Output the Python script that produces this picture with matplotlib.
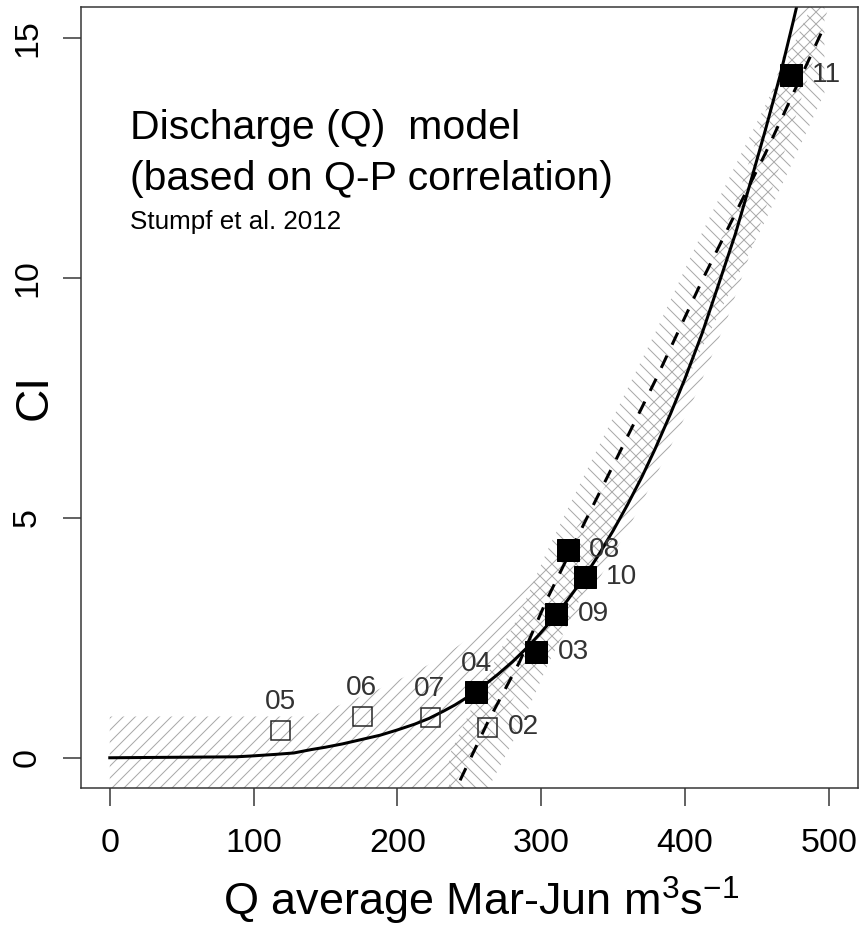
import matplotlib.pyplot as plt

plt.rcParams["font.family"] = ["Liberation Sans", "DejaVu Sans"]
plt.rcParams["mathtext.fontset"] = "custom"
plt.rcParams["mathtext.rm"] = "Liberation Sans"
plt.rcParams["mathtext.it"] = "Liberation Sans:italic"
plt.rcParams["hatch.linewidth"] = 1.0
plt.rcParams["hatch.color"] = "#a8a8a8"

# observed years (label), mean Mar-Jun discharge and CI
years = ["02", "03", "04", "05", "06", "07", "08", "09", "10", "11"]
q_avg = [262.4, 296.7, 255.0, 118.4, 175.1, 222.6, 318.6, 310.6, 330.2, 473.8]
ci = [0.64, 2.21, 1.38, 0.58, 0.86, 0.84, 4.32, 3.00, 3.76, 14.23]
filled = [False, True, True, False, False, False, True, True, True, True]
label_side = ["right", "right", "above", "above", "above", "above",
              "right", "right", "right", "right"]

# solid model curve
model_q = [0, 88, 100, 115, 128, 140, 150, 162, 175, 188, 200, 212, 222,
           232, 240, 248, 255, 262, 270, 280, 290, 299, 308, 318, 328, 339,
           350, 360, 370, 379, 390, 400, 412, 424, 435, 445, 456, 466, 475,
           482]
model_ci = [0.0, 0.02, 0.04, 0.07, 0.1, 0.17, 0.22, 0.29, 0.38, 0.47, 0.58,
            0.7, 0.82, 0.97, 1.1, 1.25, 1.39, 1.55, 1.74, 2.0, 2.29, 2.58,
            2.89, 3.27, 3.68, 4.18, 4.73, 5.27, 5.85, 6.42, 7.17, 7.9, 8.85,
            9.92, 10.91, 11.93, 13.09, 14.2, 15.31, 16.2]

# band around solid curve
band1_up_q = [0, 140, 160, 185, 206, 229, 262, 292, 320, 348, 380, 410,
              440, 465, 485]
band1_up_ci = [0.86, 0.86, 1.1, 1.4, 1.7, 2.05, 2.75, 3.6, 4.6, 5.8, 7.6,
               9.6, 12.0, 14.3, 16.3]
band1_lo_q = [0, 200, 237, 260, 282, 310, 332, 361, 387, 408, 430, 450,
              470, 490, 505]
band1_lo_ci = [-0.86, -0.86, -0.63, 0.3, 1.3, 2.3, 3.3, 4.8, 6.3, 7.6,
               9.2, 10.9, 12.7, 14.6, 16.2]

# dashed linear model and its band
lin_q = [236, 263, 285, 304, 331, 356, 380, 412, 436, 456, 470, 487, 497]
lin_ci = [-0.95, 0.75, 2.0, 3.3, 4.95, 6.45, 7.9, 9.95, 11.4, 12.6, 13.5,
          14.6, 15.25]
lin_hi = [0.05, 1.75, 3.0, 4.3, 5.95, 7.45, 8.9, 10.95, 12.4, 13.6, 14.5,
          15.6, 16.25]
lin_lo = [-2.35, -0.65, 0.6, 1.9, 3.55, 5.05, 6.5, 8.55, 10.0, 11.2, 12.1,
          13.2, 13.85]

fig = plt.figure(figsize=(860 / 72, 931 / 72), dpi=72)
ax = fig.add_axes([0.0942, 0.1536, 0.9029, 0.8386])

ax.fill(band1_up_q + band1_lo_q[::-1], band1_up_ci + band1_lo_ci[::-1],
        facecolor="none", edgecolor="#a8a8a8", linewidth=0, hatch="//")
ax.fill(lin_q + lin_q[::-1], lin_hi + lin_lo[::-1],
        facecolor="none", edgecolor="#a8a8a8", linewidth=0, hatch="\\\\")

ax.plot(model_q, model_ci, color="black", lw=3)
ax.plot(lin_q, lin_ci, color="black", lw=3, linestyle=(0, (4.5, 4)))

for q, c, f, yr, side in zip(q_avg, ci, filled, years, label_side):
    if f:
        ax.plot(q, c, marker="s", ms=22, color="black", ls="none")
    else:
        ax.plot(q, c, marker="s", ms=19, mfc="none", mec="#222222",
                mew=1.5, ls="none")
    if side == "right":
        ax.annotate(yr, (q, c), xytext=(21, 0), textcoords="offset points",
                    ha="left", va="center", fontsize=28, color="#333333")
    else:
        ax.annotate(yr, (q, c), xytext=(0, 21), textcoords="offset points",
                    ha="center", va="baseline", fontsize=28, color="#333333")

ax.text(14.2, 12.89, "Discharge (Q)  model", fontsize=41, va="baseline")
ax.text(14.2, 11.84, "(based on Q-P correlation)", fontsize=41,
        va="baseline")
ax.text(14.2, 11.02, "Stumpf et al. 2012", fontsize=26, va="baseline")

ax.set_xlim(-20, 520)
ax.set_ylim(-0.63, 15.64)
ax.set_xticks([0, 100, 200, 300, 400, 500])
ax.set_yticks([0, 5, 10, 15])
for s in ax.spines.values():
    s.set_linewidth(1.5)
    s.set_color("#333333")
ax.tick_params(length=18, width=1.5, color="#333333", labelsize=34)
ax.tick_params(axis="x", pad=22)
ax.tick_params(axis="y", pad=20)
for t in ax.get_yticklabels():
    t.set_rotation(90)
    t.set_va("center")

fig.text(223 / 860, 1 - 916 / 931, r"Q average Mar-Jun m$^3$s$^{-1}$",
         fontsize=45, ha="left", va="baseline")
fig.text(35 / 860, 1 - 397 / 931, "CI", fontsize=46, rotation=90,
         ha="center", va="center")

fig.savefig("out.png", dpi=72)
